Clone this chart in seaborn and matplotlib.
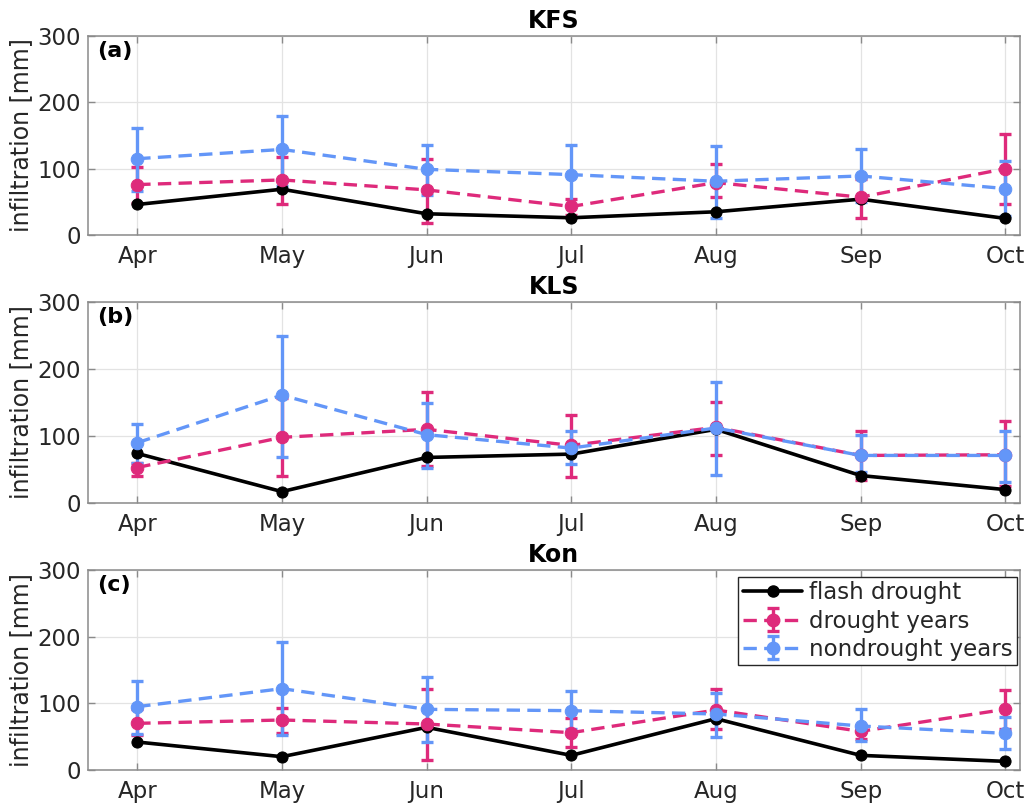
import numpy as np
import pandas as pd
import matplotlib
matplotlib.use("Agg")
import matplotlib.pyplot as plt
from matplotlib.lines import Line2D
import seaborn as sns

months = ["Apr", "May", "Jun", "Jul", "Aug", "Sep", "Oct"]
sites = ["KFS", "KLS", "Kon"]
panel_labels = ["(a)", "(b)", "(c)"]

kfs_flash = [46, 69, 32, 26, 35, 54, 25]
kfs_dry = [76, 83, 68, 43, 79, 57, 100]
kfs_dry_lo = [48, 47, 18, 30, 58, 26, 47]
kfs_dry_hi = [103, 117, 115, 55, 107, 85, 152]
kfs_wet = [115, 129, 99, 91, 81, 89, 70]
kfs_wet_lo = [66, 74, 61, 45, 26, 49, 29]
kfs_wet_hi = [161, 180, 136, 135, 134, 129, 111]

kls_flash = [74, 17, 68, 73, 110, 41, 20]
kls_dry = [53, 98, 110, 86, 113, 71, 72]
kls_dry_lo = [41, 40, 55, 39, 71, 35, 25]
kls_dry_hi = [60, 157, 165, 132, 151, 107, 122]
kls_wet = [90, 161, 102, 82, 112, 71, 71]
kls_wet_lo = [60, 68, 53, 58, 42, 47, 32]
kls_wet_hi = [118, 250, 150, 108, 180, 101, 108]

kon_flash = [42, 20, 64, 22, 77, 22, 13]
kon_dry = [70, 75, 69, 56, 90, 58, 91]
kon_dry_lo = [52, 55, 15, 34, 61, 47, 61]
kon_dry_hi = [91, 93, 121, 78, 121, 68, 120]
kon_wet = [95, 122, 91, 89, 84, 66, 55]
kon_wet_lo = [54, 52, 42, 61, 49, 44, 31]
kon_wet_hi = [134, 192, 139, 119, 116, 91, 80]

panels = [
    (kfs_flash, kfs_dry, kfs_dry_lo, kfs_dry_hi, kfs_wet, kfs_wet_lo, kfs_wet_hi),
    (kls_flash, kls_dry, kls_dry_lo, kls_dry_hi, kls_wet, kls_wet_lo, kls_wet_hi),
    (kon_flash, kon_dry, kon_dry_lo, kon_dry_hi, kon_wet, kon_wet_lo, kon_wet_hi),
]

PINK = "#DE2A7B"
BLUE = "#6396F8"
BLACK = "#000000"

sns.set_style("white")
plt.rcParams["font.family"] = ["DejaVu Sans"]

fig = plt.figure(figsize=(10.25, 8.07), dpi=100)
boxes = [
    (0.0859, 0.7088, 0.909, 0.2466),
    (0.0859, 0.3767, 0.909, 0.2490),
    (0.0859, 0.0458, 0.909, 0.2480),
]

x = np.arange(len(months))


def band_frame(mean, lo, hi):
    rows = []
    for i in range(len(months)):
        for v in (lo[i], mean[i], hi[i]):
            rows.append({"x": x[i], "y": v})
    return pd.DataFrame(rows)


for k, (flash, dry, dlo, dhi, wet, wlo, whi) in enumerate(panels):
    ax = fig.add_axes(boxes[k])
    ax.grid(True, color="#e3e3e3", lw=0.9, zorder=0)
    ax.set_axisbelow(True)

    sns.lineplot(x=x, y=flash, ax=ax, color=BLACK, lw=2.6, marker="o",
                 markersize=8, markeredgecolor=BLACK, zorder=3)
    for mean, lo, hi, col in ((dry, dlo, dhi, PINK), (wet, wlo, whi, BLUE)):
        df = band_frame(mean, lo, hi)
        sns.lineplot(data=df, x="x", y="y", ax=ax, color=col, lw=2.4,
                     linestyle=(0, (4, 2.2)), marker="o", markersize=9,
                     markeredgecolor=col, estimator="median",
                     errorbar=lambda v: (v.min(), v.max()),
                     err_style="bars",
                     err_kws={"capsize": 4.5, "elinewidth": 2.4,
                              "capthick": 2.4},
                     zorder=4)

    ax.set_xlim(-0.34, 6.1)
    ax.set_ylim(0, 300)
    ax.set_xticks(x)
    ax.set_xticklabels(months)
    ax.set_yticks([0, 100, 200, 300])
    ax.tick_params(direction="in", length=5, width=1, colors="#8a8a8a",
                   labelcolor="#262626", labelsize=16.5, pad=7, top=True,
                   right=True, bottom=True, left=True)
    ax.tick_params(axis="y", pad=5)
    for s in ax.spines.values():
        s.set_visible(True)
        s.set_color("#8a8a8a")
        s.set_linewidth(1.1)
    ax.set_xlabel("")
    ax.set_ylabel("infiltration [mm]", fontsize=17, color="#262626",
                  labelpad=3)
    ax.set_title(sites[k], fontsize=17, fontweight="bold", pad=6,
                 color="black")
    ax.text(0.01, 0.975, panel_labels[k], transform=ax.transAxes,
            fontsize=16, fontweight="bold", va="top", ha="left",
            color="black")
    if ax.get_legend() is not None:
        ax.get_legend().remove()

    if k == 2:
        h1 = Line2D([], [], color=BLACK, lw=2.6, marker="o", markersize=8)
        h2 = ax.errorbar([np.nan], [np.nan], yerr=[[np.nan], [np.nan]],
                         color=PINK, lw=2.4, linestyle=(0, (4, 2.2)),
                         marker="o", markersize=9, capsize=4.5,
                         elinewidth=2.4, capthick=2.4)
        h3 = ax.errorbar([np.nan], [np.nan], yerr=[[np.nan], [np.nan]],
                         color=BLUE, lw=2.4, linestyle=(0, (4, 2.2)),
                         marker="o", markersize=9, capsize=4.5,
                         elinewidth=2.4, capthick=2.4)
        leg = ax.legend([h1, h2, h3],
                        ["flash drought", "drought years", "nondrought years"],
                        loc="upper right", bbox_to_anchor=(0.9975, 0.965),
                        fontsize=16.5, frameon=True, fancybox=False,
                        handlelength=2.6, borderpad=0.2, labelspacing=0.22,
                        handletextpad=0.3, borderaxespad=0.0)
        leg.get_frame().set_edgecolor("#262626")
        leg.get_frame().set_linewidth(1.0)
        leg.get_frame().set_alpha(1.0)

fig.savefig("out.png", dpi=100)
